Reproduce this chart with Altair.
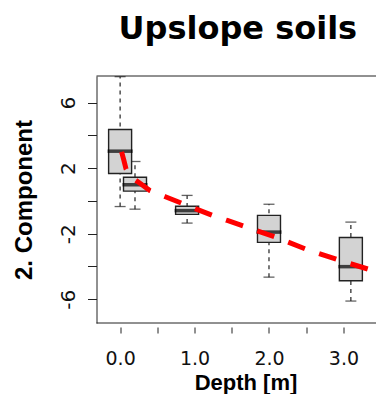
import altair as alt
import pandas as pd

# Box statistics
depth = [0.0, 0.2, 0.9, 2.0, 3.1]
lower = [-0.34, -0.5, -1.35, -4.65, -6.11]
q1 = [1.68, 0.60, -0.82, -2.53, -4.87]
median = [3.04, 0.99, -0.59, -1.90, -4.01]
q3 = [4.36, 1.45, -0.32, -0.88, -2.23]
upper = [7.59, 2.41, 0.34, -0.20, -1.29]

# Fitted (red dashed) curve
curve_depth = [0.02, 0.05, 0.08, 0.15, 0.23, 0.4, 0.6, 1.0, 1.24, 1.44, 2.09, 2.5, 3.0, 3.36, 3.5]
curve_value = [3.0, 2.5, 1.95, 1.45, 1.2, 0.64, 0.27, -0.45, -0.88, -1.19, -2.21, -2.95, -3.7, -4.2, -4.42]

x_ticks = [0.0, 0.5, 1.0, 1.5, 2.0, 2.5, 3.0]
y_ticks = [-6, -4, -2, 0, 2, 4, 6]
title_text = ["Upslope soils"]

W, H = 279.5, 247

boxes = pd.DataFrame(dict(depth=depth, lower=lower, q1=q1, median=median, q3=q3, upper=upper))
curve = pd.DataFrame(dict(depth=curve_depth, value=curve_value))
titles = pd.DataFrame(dict(t=title_text))

xscale = alt.Scale(domain=[-0.25, -0.25 + W / 77.2], nice=False, zero=False)
yscale = alt.Scale(domain=[-7.45, 7.63], nice=False, zero=False)

x_axis = alt.Axis(
    values=x_ticks,
    labelExpr="datum.value % 1 == 0 ? format(datum.value, '.1f') : ''",
    domain=False, grid=False, offset=4, tickSize=6, tickColor="#222", tickWidth=1,
    labelFont="DejaVu Sans", labelFontSize=19, labelColor="#111",
    labelBaseline="top", labelPadding=16, labelFlush=False, labelOverlap=False,
    title="Depth [m]", titleFont="Liberation Sans", titleFontWeight="bold",
    titleFontSize=22, titleColor="black", titleBaseline="alphabetic",
    titleX=149, titleY=62, titleAlign="center",
)
y_axis = alt.Axis(
    values=y_ticks,
    labelExpr="(datum.value == 6 || datum.value == 2 || datum.value == -2 || datum.value == -6) ? toString(datum.value) : ''",
    domain=True, domainColor="#222", domainWidth=1, grid=False,
    tickSize=9, tickColor="#222", tickWidth=1,
    labelFont="DejaVu Sans", labelFontSize=20, labelColor="#111",
    labelAngle=270, labelAlign="center", labelBaseline="alphabetic",
    labelPadding=13, labelOverlap=False, labelFlush=False,
    title="2. Component", titleFont="Liberation Sans", titleFontWeight="bold",
    titleFontSize=24, titleColor="black", titleAngle=270, titleAlign="center",
    titleBaseline="alphabetic", titleX=-65, titleY=H / 2,
)

base = alt.Chart(boxes)

whisk = base.mark_rule(color="#222", strokeWidth=1.2, strokeDash=[4, 4]).encode(
    x=alt.X("depth:Q", scale=xscale, axis=x_axis),
    y=alt.Y("lower:Q", scale=yscale, axis=y_axis),
    y2="upper:Q",
)
cap_hi = base.mark_tick(orient="horizontal", size=11, thickness=1.3, color="#222").encode(
    x=alt.X("depth:Q", scale=xscale), y=alt.Y("upper:Q", scale=yscale)
)
cap_lo = base.mark_tick(orient="horizontal", size=11, thickness=1.3, color="#222").encode(
    x=alt.X("depth:Q", scale=xscale), y=alt.Y("lower:Q", scale=yscale)
)
box = base.mark_bar(size=23, color="#D3D3D3", stroke="#222", strokeWidth=1.4).encode(
    x=alt.X("depth:Q", scale=xscale), y=alt.Y("q1:Q", scale=yscale), y2="q3:Q"
)
med = base.mark_tick(orient="horizontal", size=25, thickness=3.5, color="black").encode(
    x=alt.X("depth:Q", scale=xscale), y=alt.Y("median:Q", scale=yscale)
)
line = alt.Chart(curve).mark_line(
    color="#FF0000", strokeWidth=5, strokeDash=[18, 15], clip=True
).encode(x=alt.X("depth:Q", scale=xscale), y=alt.Y("value:Q", scale=yscale))

top_border = alt.Chart(titles).mark_rule(color="#222", strokeWidth=1).encode(
    x=alt.value(0), x2=alt.value(W), y=alt.value(0)
)
bottom_border = alt.Chart(titles).mark_rule(color="#222", strokeWidth=1).encode(
    x=alt.value(0), x2=alt.value(W), y=alt.value(H)
)
title = alt.Chart(titles).mark_text(
    font="DejaVu Sans", fontWeight="bold", fontSize=32, color="black",
    align="left", baseline="alphabetic",
).encode(text="t:N", x=alt.value(22), y=alt.value(-37.5))

chart = (
    alt.layer(whisk, cap_hi, cap_lo, box, med, line, top_border, bottom_border, title)
    .properties(
        width=W,
        height=H,
        autosize=alt.AutoSizeParams(type="none"),
        padding={"left": 88.5, "top": 68, "right": 0, "bottom": 71},
        background="white",
    )
    .configure_view(strokeWidth=0)
)

chart.save("out.html", embed_options={"renderer": "svg", "actions": False})
